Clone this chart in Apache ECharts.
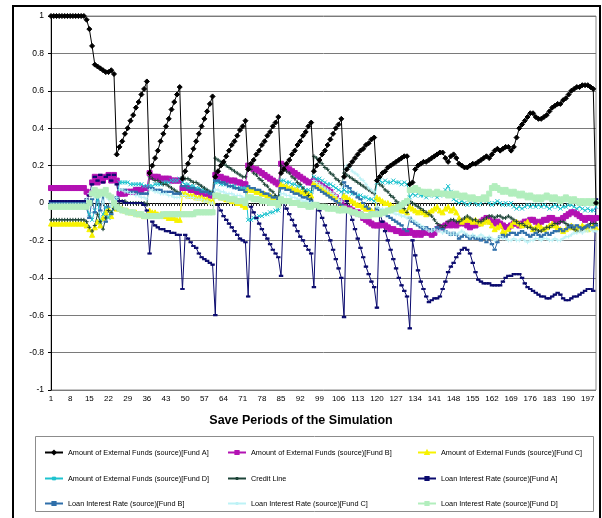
<!DOCTYPE html>
<html>
<head>
<meta charset="utf-8">
<script src="https://cdn.jsdelivr.net/npm/echarts@6/dist/echarts.min.js"></script>
<style>
  html, body { margin: 0; padding: 0; background: #fff; }
  #chart { width: 602px; height: 518px; }
</style>
</head>
<body>
<div id="chart"></div>
<script>
// Save periods 1..200 of the simulation run
const periods = [];
for (let p = 1; p <= 200; p++) periods.push(String(p));

const yTicks = { min: -1, max: 1, step: 0.2 };

// Amount of External Funds (source)[Fund A]
const extFundA = [
  1, 1, 1, 1, 1, 1, 1, 1, 1, 1, 1, 1, 1,
  0.98, 0.93, 0.84, 0.74, 0.73, 0.72, 0.71, 0.70, 0.70, 0.71, 0.69,
  0.26, 0.30, 0.33, 0.37, 0.40, 0.44, 0.47, 0.51, 0.54, 0.58, 0.61, 0.65,
  0.16, 0.20, 0.24, 0.28, 0.33, 0.37, 0.41, 0.45, 0.50, 0.54, 0.58, 0.62,
  0.13, 0.17, 0.21, 0.25, 0.29, 0.33, 0.37, 0.41, 0.45, 0.49, 0.53, 0.57,
  0.14, 0.17, 0.20, 0.22, 0.25, 0.28, 0.31, 0.33, 0.36, 0.39, 0.41, 0.44,
  0.18, 0.21, 0.23, 0.26, 0.28, 0.31, 0.33, 0.36, 0.38, 0.41, 0.43, 0.46,
  0.16, 0.18, 0.21, 0.23, 0.26, 0.28, 0.31, 0.33, 0.36, 0.38, 0.41, 0.43,
  0.17, 0.20, 0.23, 0.26, 0.28, 0.31, 0.34, 0.37, 0.40, 0.42, 0.45,
  0.14, 0.18, 0.20, 0.22, 0.24, 0.26, 0.28, 0.29, 0.31, 0.32, 0.34, 0.35,
  0.12, 0.14, 0.16, 0.17, 0.19, 0.20, 0.21, 0.22, 0.23, 0.24, 0.25, 0.25,
  0.10, 0.11, 0.18, 0.20, 0.21, 0.22, 0.22, 0.23, 0.24, 0.25, 0.26, 0.27, 0.27,
  0.24, 0.22, 0.25, 0.26, 0.24, 0.21, 0.20, 0.19, 0.19, 0.20, 0.21, 0.21, 0.22,
  0.23, 0.24, 0.25, 0.24, 0.26, 0.28, 0.29, 0.28, 0.29, 0.30, 0.30, 0.28, 0.30,
  0.35, 0.40, 0.42, 0.44, 0.46, 0.48, 0.48, 0.46, 0.45, 0.45, 0.46, 0.47, 0.49,
  0.51, 0.52, 0.53, 0.53, 0.55, 0.56, 0.58, 0.60, 0.61, 0.62, 0.62, 0.63, 0.63, 0.63, 0.62, 0.61, 0.00
];

// Amount of External Funds (source)[Fund B]
const extFundB = [
  0.08, 0.08, 0.08, 0.08, 0.08, 0.08, 0.08, 0.08, 0.08, 0.08, 0.08, 0.08, 0.08,
  0.06, 0.05, 0.11, 0.14, 0.11, 0.14, 0.12, 0.14, 0.15, 0.12, 0.15, 0.12,
  0.05, 0.05, 0.05, 0.06, 0.06, 0.06, 0.07, 0.07, 0.07, 0.08, 0.08,
  0.16, 0.14, 0.14, 0.14, 0.13, 0.13, 0.13, 0.13, 0.12, 0.12, 0.12, 0.12,
  0.08, 0.08, 0.08, 0.07, 0.07, 0.06, 0.06, 0.05, 0.05, 0.05, 0.04, 0.04,
  0.15, 0.14, 0.14, 0.13, 0.13, 0.12, 0.12, 0.12, 0.11, 0.11, 0.10, 0.10,
  0.20, 0.19, 0.18, 0.18, 0.17, 0.16, 0.15, 0.14, 0.13, 0.12, 0.11, 0.10,
  0.21, 0.20, 0.19, 0.18, 0.17, 0.16, 0.15, 0.14, 0.13, 0.12, 0.11, 0.11,
  0.12, 0.11, 0.10, 0.09, 0.08, 0.07, 0.06, 0.04, 0.03, 0.01, 0.00,
  -0.02, -0.03, -0.03, -0.04, -0.05, -0.05, -0.06, -0.08, -0.09, -0.10, -0.11, -0.12,
  -0.12, -0.12, -0.11, -0.12, -0.13, -0.14, -0.14, -0.15, -0.15, -0.16, -0.16, -0.16,
  -0.15, -0.16, -0.17, -0.16, -0.17, -0.16, -0.15, -0.16, -0.17, -0.16, -0.14, -0.13, -0.13,
  -0.12, -0.11, -0.12, -0.11, -0.12, -0.11, -0.10, -0.11, -0.12, -0.13, -0.12, -0.12, -0.11,
  -0.10, -0.09, -0.08, -0.09, -0.10, -0.11, -0.10, -0.11, -0.12, -0.13, -0.13, -0.12, -0.11,
  -0.11, -0.12, -0.11, -0.10, -0.10, -0.09, -0.09, -0.10, -0.11, -0.10, -0.09, -0.09, -0.08,
  -0.08, -0.09, -0.10, -0.09, -0.08, -0.07, -0.06, -0.05, -0.05, -0.06, -0.07, -0.08, -0.09, -0.08, -0.08, -0.09, -0.08
];

// Amount of External Funds (source)[Fund C]
const extFundC = [
  -0.11, -0.11, -0.11, -0.11, -0.11, -0.11, -0.11, -0.11, -0.11, -0.11, -0.11, -0.11, -0.11,
  -0.12, -0.14, -0.17, -0.13, -0.10, -0.12, -0.08, -0.05, -0.03, -0.07, -0.01, -0.03,
  -0.03, -0.03, -0.04, -0.04, -0.05, -0.05, -0.05, -0.06, -0.06, -0.07, -0.07,
  -0.04, -0.05, -0.05, -0.06, -0.06, -0.07, -0.07, -0.08, -0.08, -0.08, -0.09, -0.09,
  0.05, 0.05, 0.04, 0.04, 0.04, 0.03, 0.03, 0.03, 0.02, 0.02, 0.01, 0.01,
  0.04, 0.04, 0.03, 0.03, 0.02, 0.02, 0.01, 0.01, 0.00, 0.00, -0.01, -0.02,
  0.08, 0.07, 0.07, 0.06, 0.06, 0.05, 0.05, 0.04, 0.04, 0.03, 0.03, 0.02,
  0.10, 0.09, 0.09, 0.08, 0.08, 0.07, 0.07, 0.06, 0.06, 0.05, 0.05, 0.04,
  0.11, 0.10, 0.09, 0.08, 0.07, 0.06, 0.05, 0.04, 0.03, 0.01, -0.02,
  0.04, 0.03, 0.02, 0.01, 0.00, -0.01, -0.01, -0.02, -0.03, -0.03, -0.04, -0.05,
  0.03, 0.02, 0.01, 0.00, 0.00, -0.01, -0.02, -0.02, -0.03, -0.04, -0.04, -0.05,
  -0.02, -0.03, -0.04, -0.05, -0.04, -0.05, -0.06, -0.05, -0.04, -0.03, -0.02, -0.04, -0.05,
  -0.03, -0.02, -0.04, -0.03, -0.05, -0.08, -0.10, -0.09, -0.08, -0.09, -0.10, -0.09, -0.10,
  -0.11, -0.10, -0.09, -0.10, -0.12, -0.14, -0.13, -0.12, -0.15, -0.16, -0.14, -0.12, -0.10,
  -0.10, -0.11, -0.12, -0.11, -0.10, -0.12, -0.14, -0.13, -0.12, -0.13, -0.14, -0.13, -0.12,
  -0.11, -0.12, -0.13, -0.14, -0.15, -0.14, -0.13, -0.12, -0.13, -0.14, -0.13, -0.12, -0.13, -0.14, -0.13, -0.12, -0.13
];

// Amount of External Funds (source)[Fund D]
const extFundD = [
  -0.01, -0.01, -0.01, -0.01, -0.01, -0.01, -0.01, -0.01, -0.01, -0.01, -0.01, -0.01, -0.01,
  -0.02, -0.06, -0.09, -0.04, 0.02, -0.10, -0.06, -0.02, -0.08, -0.05, -0.02, 0.02,
  0.11, 0.11, 0.11, 0.11, 0.10, 0.10, 0.10, 0.10, 0.10, 0.09, 0.09,
  0.09, 0.09, 0.10, 0.10, 0.10, 0.11, 0.11, 0.11, 0.12, 0.12, 0.12, 0.13,
  0.11, 0.10, 0.10, 0.09, 0.09, 0.08, 0.08, 0.07, 0.07, 0.06, 0.06, 0.05,
  0.11, 0.11, 0.10, 0.10, 0.10, 0.09, 0.09, 0.09, 0.08, 0.08, 0.08, 0.08,
  -0.09, -0.09, -0.08, -0.08, -0.07, -0.07, -0.06, -0.06, -0.05, -0.05, -0.04, -0.04,
  0.12, 0.12, 0.11, 0.11, 0.10, 0.10, 0.09, 0.09, 0.08, 0.07, 0.07, 0.06,
  0.14, 0.13, 0.13, 0.12, 0.11, 0.10, 0.10, 0.09, 0.08, 0.07, 0.06,
  0.07, 0.06, 0.06, 0.05, 0.05, 0.04, 0.04, 0.03, 0.03, 0.02, 0.02, 0.01,
  0.11, 0.12, 0.11, 0.12, 0.11, 0.11, 0.12, 0.11, 0.11, 0.10, 0.11, 0.10,
  0.03, 0.05, 0.04, 0.05, 0.04, 0.04, 0.03, 0.04, 0.05, 0.04, 0.03, 0.04, 0.05,
  0.07, 0.09, 0.06, 0.02, 0.01, 0.00, 0.01, 0.00, -0.01, 0.00, 0.01, 0.00, -0.01,
  0.00, 0.02, 0.01, 0.00, -0.01, 0.00, 0.01, 0.00, -0.01, 0.00, -0.01, 0.00, -0.02,
  -0.03, -0.02, -0.03, -0.02, -0.01, -0.02, -0.01, -0.02, -0.01, -0.02, -0.01, -0.02, -0.03,
  -0.02, -0.01, -0.02, -0.03, -0.02, -0.02, -0.01, -0.01, -0.02, -0.03, -0.02, -0.03, -0.04, -0.03, -0.04, -0.04, -0.02
];

// Credit Line
const creditLine = [
  -0.09, -0.09, -0.09, -0.09, -0.09, -0.09, -0.09, -0.09, -0.09, -0.09, -0.09, -0.09, -0.09,
  -0.10, -0.13, -0.15, -0.12, -0.06, -0.10, -0.14, -0.08, -0.04, -0.05, -0.03, -0.03,
  0.01, 0.01, 0.01, 0.00, 0.00, 0.00, 0.00, 0.00, 0.00, 0.00, -0.01,
  0.14, 0.13, 0.12, 0.12, 0.11, 0.10, 0.10, 0.09, 0.08, 0.07, 0.06, 0.05,
  0.14, 0.13, 0.13, 0.12, 0.11, 0.11, 0.10, 0.09, 0.08, 0.07, 0.06, 0.05,
  0.24, 0.23, 0.22, 0.21, 0.20, 0.19, 0.18, 0.17, 0.16, 0.15, 0.14, 0.14,
  0.19, 0.18, 0.16, 0.15, 0.13, 0.12, 0.10, 0.09, 0.07, 0.06, 0.04, 0.03,
  0.20, 0.19, 0.17, 0.16, 0.14, 0.13, 0.11, 0.10, 0.08, 0.06, 0.04, 0.02,
  0.25, 0.24, 0.22, 0.21, 0.19, 0.18, 0.16, 0.15, 0.13, 0.12, 0.10,
  0.16, 0.15, 0.14, 0.13, 0.12, 0.11, 0.10, 0.09, 0.08, 0.07, 0.06, 0.05,
  0.12, 0.10, 0.09, 0.07, 0.06, 0.04, 0.03, 0.01, 0.00, -0.02, -0.03, -0.05,
  0.01, 0.00, -0.01, -0.02, -0.03, -0.04, -0.05, -0.06, -0.07, -0.09, -0.11, -0.12, -0.13,
  -0.12, -0.10, -0.09, -0.09, -0.10, -0.10, -0.09, -0.08, -0.07, -0.08, -0.09, -0.09, -0.10,
  -0.10, -0.09, -0.08, -0.07, -0.07, -0.08, -0.07, -0.07, -0.08, -0.08, -0.07, -0.08, -0.09,
  -0.10, -0.11, -0.11, -0.12, -0.13, -0.13, -0.14, -0.14, -0.15, -0.15, -0.14, -0.13, -0.13,
  -0.12, -0.11, -0.11, -0.10, -0.10, -0.11, -0.12, -0.13, -0.14, -0.15, -0.15, -0.14, -0.13, -0.12, -0.11, -0.11, -0.11
];

// Loan Interest Rate (source)[Fund A]
const rateFundA = [
  0.01, 0.01, 0.01, 0.01, 0.01, 0.01, 0.01, 0.01, 0.01, 0.01, 0.01, 0.01, 0.01,
  0.02, 0.04, 0.10, 0.14, 0.12, 0.15, 0.11, 0.14, 0.15, 0.12, 0.15, 0.10,
  0.01, 0.01, 0.00, 0.00, 0.00, 0.00, 0.00, 0.00, 0.00, -0.01, -0.04,
  -0.27, -0.10, -0.12, -0.13, -0.14, -0.14, -0.15, -0.15, -0.16, -0.16, -0.17, -0.17,
  -0.46, -0.17, -0.19, -0.21, -0.23, -0.24, -0.27, -0.29, -0.30, -0.31, -0.32, -0.33,
  -0.60, -0.01, -0.04, -0.07, -0.09, -0.11, -0.13, -0.15, -0.17, -0.19, -0.20, -0.21,
  -0.50, -0.02, -0.05, -0.08, -0.11, -0.14, -0.17, -0.19, -0.22, -0.25, -0.27, -0.29,
  -0.39, 0.00, -0.03, -0.06, -0.09, -0.12, -0.15, -0.18, -0.20, -0.23, -0.25, -0.27,
  -0.45, 0.00, -0.04, -0.08, -0.12, -0.16, -0.20, -0.25, -0.30, -0.35, -0.40,
  -0.61, 0.01, -0.04, -0.09, -0.14, -0.19, -0.24, -0.29, -0.34, -0.38, -0.42, -0.45,
  -0.56, -0.05, -0.10, -0.15, -0.20, -0.25, -0.30, -0.35, -0.40, -0.44, -0.47, -0.50,
  -0.67, -0.20, -0.28, -0.36, -0.42, -0.46, -0.50, -0.53, -0.52, -0.51, -0.51, -0.50, -0.46,
  -0.42, -0.37, -0.34, -0.32, -0.29, -0.27, -0.25, -0.24, -0.25, -0.27, -0.32, -0.37, -0.41,
  -0.42, -0.43, -0.43, -0.43, -0.44, -0.44, -0.44, -0.44, -0.42, -0.40, -0.39, -0.39, -0.38,
  -0.38, -0.38, -0.40, -0.43, -0.45, -0.46, -0.47, -0.48, -0.49, -0.50, -0.50, -0.51, -0.51,
  -0.50, -0.49, -0.48, -0.49, -0.51, -0.52, -0.52, -0.51, -0.50, -0.50, -0.49, -0.48, -0.47, -0.46, -0.46, -0.47, 0.02
];

// Loan Interest Rate (source)[Fund B]
const rateFundB = [
  0.00, 0.00, 0.00, 0.00, 0.00, 0.00, 0.00, 0.00, 0.00, 0.00, 0.00, 0.00, 0.00,
  -0.03, -0.08, 0.02, -0.05, 0.06, -0.04, 0.05, -0.10, -0.02, -0.06, 0.00, 0.03,
  0.07, 0.07, 0.07, 0.06, 0.06, 0.06, 0.06, 0.05, 0.05, 0.05, 0.05,
  0.08, 0.08, 0.07, 0.07, 0.07, 0.06, 0.06, 0.06, 0.06, 0.05, 0.05, 0.05,
  0.09, 0.09, 0.08, 0.08, 0.08, 0.07, 0.07, 0.06, 0.06, 0.06, 0.05, 0.05,
  0.12, 0.12, 0.11, 0.11, 0.10, 0.09, 0.09, 0.08, 0.08, 0.07, 0.07, 0.06,
  0.09, 0.08, 0.08, 0.07, 0.07, 0.06, 0.05, 0.05, 0.04, 0.03, 0.03, 0.02,
  0.08, 0.08, 0.07, 0.07, 0.06, 0.05, 0.05, 0.04, 0.03, 0.03, 0.02, 0.01,
  0.09, 0.08, 0.07, 0.06, 0.05, 0.04, 0.03, 0.02, 0.01, 0.00, -0.01,
  0.11, 0.09, 0.08, 0.06, 0.05, 0.03, 0.02, 0.00, -0.02, -0.03, -0.05, -0.06,
  -0.03, -0.04, -0.05, -0.06, -0.07, -0.08, -0.09, -0.10, -0.11, -0.12, -0.14, -0.15,
  -0.08, -0.10, -0.11, -0.12, -0.13, -0.14, -0.13, -0.14, -0.15, -0.14, -0.13, -0.14, -0.14,
  -0.15, -0.16, -0.17, -0.16, -0.17, -0.19, -0.18, -0.17, -0.18, -0.19, -0.18, -0.19, -0.19,
  -0.20, -0.19, -0.21, -0.19, -0.22, -0.25, -0.21, -0.18, -0.17, -0.18, -0.17, -0.16, -0.16,
  -0.17, -0.16, -0.15, -0.16, -0.17, -0.18, -0.17, -0.16, -0.17, -0.18, -0.17, -0.16, -0.17,
  -0.16, -0.15, -0.15, -0.14, -0.15, -0.14, -0.13, -0.12, -0.13, -0.12, -0.13, -0.14, -0.13, -0.12, -0.13, -0.13, -0.12
];

// Loan Interest Rate (source)[Fund C]
const rateFundC = [
  -0.01, -0.01, -0.01, -0.01, -0.01, -0.01, -0.01, -0.01, -0.01, -0.01, -0.01, -0.01, -0.01,
  0.02, 0.05, 0.08, 0.03, 0.06, 0.04, 0.00, 0.05, 0.02, -0.02, 0.01, 0.03,
  0.07, 0.07, 0.06, 0.06, 0.05, 0.05, 0.04, 0.04, 0.03, 0.03, 0.02,
  0.07, 0.07, 0.06, 0.06, 0.05, 0.05, 0.05, 0.04, 0.04, 0.03, 0.03, 0.03,
  0.04, 0.04, 0.03, 0.03, 0.03, 0.02, 0.02, 0.02, 0.01, 0.01, 0.00, 0.00,
  0.07, 0.07, 0.06, 0.06, 0.05, 0.05, 0.05, 0.04, 0.04, 0.04, 0.03, 0.03,
  0.03, 0.03, 0.02, 0.02, 0.02, 0.01, 0.01, 0.01, 0.00, 0.00, 0.00, -0.01,
  0.05, 0.05, 0.04, 0.04, 0.03, 0.03, 0.02, 0.02, 0.01, 0.01, 0.00, 0.00,
  0.12, 0.11, 0.10, 0.09, 0.08, 0.07, 0.06, 0.05, 0.04, 0.02, 0.01,
  0.18, 0.20, 0.19, 0.17, 0.16, 0.15, 0.13, 0.12, 0.10, 0.08, 0.07, 0.06,
  -0.02, -0.03, -0.03, -0.04, -0.04, -0.05, -0.05, -0.06, -0.06, -0.07, -0.07, -0.08,
  -0.08, -0.09, -0.10, -0.11, -0.12, -0.13, -0.14, -0.15, -0.15, -0.14, -0.15, -0.15, -0.16,
  -0.15, -0.16, -0.17, -0.16, -0.17, -0.16, -0.15, -0.16, -0.17, -0.18, -0.17, -0.18, -0.18,
  -0.17, -0.18, -0.19, -0.18, -0.19, -0.20, -0.19, -0.18, -0.19, -0.19, -0.20, -0.20, -0.19,
  -0.20, -0.20, -0.19, -0.20, -0.21, -0.20, -0.20, -0.19, -0.19, -0.20, -0.19, -0.19, -0.20,
  -0.20, -0.19, -0.20, -0.20, -0.19, -0.18, -0.18, -0.17, -0.16, -0.16, -0.15, -0.16, -0.15, -0.15, -0.14, -0.15, -0.15
];

// Loan Interest Rate (source)[Fund D]
const rateFundD = [
  -0.02, -0.02, -0.02, -0.02, -0.02, -0.02, -0.02, -0.02, -0.02, -0.02, -0.02, -0.02, -0.02,
  -0.02, 0.00, 0.05, 0.07, 0.04, 0.06, 0.05, 0.07, 0.04, 0.03, 0.00, -0.02,
  -0.03, -0.04, -0.04, -0.05, -0.05, -0.05, -0.06, -0.06, -0.06, -0.07, -0.07,
  -0.07, -0.07, -0.07, -0.07, -0.07, -0.06, -0.06, -0.06, -0.06, -0.06, -0.06, -0.06,
  -0.06, -0.06, -0.06, -0.06, -0.06, -0.05, -0.05, -0.05, -0.05, -0.05, -0.05, -0.05,
  0.04, 0.04, 0.03, 0.03, 0.03, 0.02, 0.02, 0.02, 0.01, 0.01, 0.01, 0.00,
  0.03, 0.03, 0.02, 0.02, 0.02, 0.01, 0.01, 0.01, 0.00, 0.00, 0.00, -0.01,
  0.02, 0.01, 0.01, 0.01, 0.00, 0.00, 0.00, -0.01, -0.01, -0.01, -0.02, -0.02,
  -0.01, -0.01, -0.02, -0.02, -0.02, -0.03, -0.03, -0.03, -0.03, -0.04, -0.04,
  -0.03, -0.04, -0.04, -0.05, -0.05, -0.06, -0.06, -0.07, -0.07, -0.07, -0.06, -0.06,
  -0.06, -0.06, -0.05, -0.05, -0.04, -0.04, -0.03, -0.03, -0.02, -0.01, 0.00, 0.01,
  0.07, 0.07, 0.08, 0.07, 0.06, 0.06, 0.05, 0.06, 0.05, 0.05, 0.06, 0.05, 0.05,
  0.05, 0.04, 0.05, 0.04, 0.05, 0.04, 0.03, 0.04, 0.03, 0.02, 0.03, 0.02, 0.02,
  0.02, 0.03, 0.02, 0.05, 0.08, 0.09, 0.08, 0.07, 0.06, 0.07, 0.06, 0.05, 0.06,
  0.05, 0.04, 0.05, 0.04, 0.03, 0.04, 0.03, 0.02, 0.03, 0.02, 0.03, 0.04, 0.03,
  0.02, 0.03, 0.02, 0.01, 0.02, 0.03, 0.02, 0.01, 0.02, 0.01, 0.00, 0.01, 0.00, 0.01, 0.00, 0.01, 0.00
];

const FONT = '"Liberation Sans", Arial, Helvetica, sans-serif';
const SYM_X = 'path://M0,0L10,10M10,0L0,10';
const SYM_PLUS = 'path://M5,0L5,10M0,5L10,5';

function lineSeries(name, data, color, symbol, symbolSize, extra) {
  return Object.assign({
    name: name,
    type: 'line',
    data: data,
    symbol: symbol,
    symbolSize: symbolSize,
    showAllSymbol: true,
    lineStyle: { color: color, width: 1 },
    itemStyle: { color: color, borderColor: color, borderWidth: 1 },
    emphasis: { disabled: true },
    animation: false
  }, extra || {});
}

const seriesList = [
  lineSeries('Amount of External Funds (source)[Fund A]', extFundA, '#000000', 'diamond', 5, { z: 9 }),
  lineSeries('Amount of External Funds (source)[Fund B]', extFundB, '#B312B3', 'rect', 5),
  lineSeries('Amount of External Funds (source)[Fund C]', extFundC, '#F7F200', 'triangle', 5),
  lineSeries('Amount of External Funds (source)[Fund D]', extFundD, '#1EC3CF', SYM_X, 4),
  lineSeries('Credit Line', creditLine, '#1D4438', SYM_PLUS, 4),
  lineSeries('Loan Interest Rate (source)[Fund A]', rateFundA, '#0A0A6E', 'rect', [3, 1.5]),
  lineSeries('Loan Interest Rate (source)[Fund B]', rateFundB, '#2F6FAA', 'rect', [3, 1.5]),
  lineSeries('Loan Interest Rate (source)[Fund C]', rateFundC, '#BDF2F6', SYM_PLUS, 4),
  lineSeries('Loan Interest Rate (source)[Fund D]', rateFundD, '#B2EEBD', 'rect', 5)
];

// legend grid: 3 columns x 3 rows
const legendCols = [44, 227, 417];
const legendRows = [449, 475, 500];
const legends = seriesList.map(function (s, k) {
  return {
    data: [s.name],
    left: legendCols[k % 3],
    top: legendRows[Math.floor(k / 3)],
    itemWidth: 18,
    itemHeight: 4,
    itemGap: 0,
    padding: 0,
    selectedMode: false,
    textStyle: { fontFamily: FONT, fontSize: 7.3, color: '#000' }
  };
});

const chart = echarts.init(document.getElementById('chart'), null, { renderer: 'canvas' });
chart.setOption({
  backgroundColor: '#ffffff',
  animation: false,
  grid: {
    left: 51, right: 6, top: 16, bottom: 128,
    show: true, borderColor: '#8c8c8c', borderWidth: 1, backgroundColor: '#ffffff'
  },
  legend: legends,
  xAxis: {
    type: 'category',
    data: periods,
    boundaryGap: false,
    axisLine: { lineStyle: { color: '#000', width: 1 } },
    axisTick: { show: true, interval: 0, length: 3, lineStyle: { color: '#333' } },
    axisLabel: { interval: 6, fontFamily: FONT, fontSize: 8, color: '#000', margin: 5 },
    splitLine: { show: false }
  },
  yAxis: {
    type: 'value',
    min: yTicks.min, max: yTicks.max, interval: yTicks.step,
    axisLine: { show: true, lineStyle: { color: '#000', width: 1 } },
    axisTick: { show: true, length: 3, lineStyle: { color: '#000' } },
    axisLabel: { fontFamily: FONT, fontSize: 8.5, color: '#000', margin: 7 },
    splitLine: { show: true, lineStyle: { color: '#7a7a7a', width: 1 } }
  },
  series: seriesList,
  graphic: [
    { type: 'text', left: 'center', top: 414,
      style: { text: 'Save Periods of the Simulation', font: 'bold 12.5px ' + FONT, fill: '#000' } },
    { type: 'rect', shape: { x: 35.5, y: 436.5, width: 558, height: 75 },
      style: { fill: 'none', stroke: '#8c8c8c', lineWidth: 1 }, z: -1 },
    { type: 'line', shape: { x1: 13, y1: 6, x2: 13, y2: 518 }, style: { stroke: '#000', lineWidth: 2 } },
    { type: 'line', shape: { x1: 12, y1: 6, x2: 601, y2: 6 }, style: { stroke: '#000', lineWidth: 2 } },
    { type: 'line', shape: { x1: 600, y1: 5, x2: 600, y2: 518 }, style: { stroke: '#000', lineWidth: 2 } }
  ]
});
</script>
</body>
</html>
